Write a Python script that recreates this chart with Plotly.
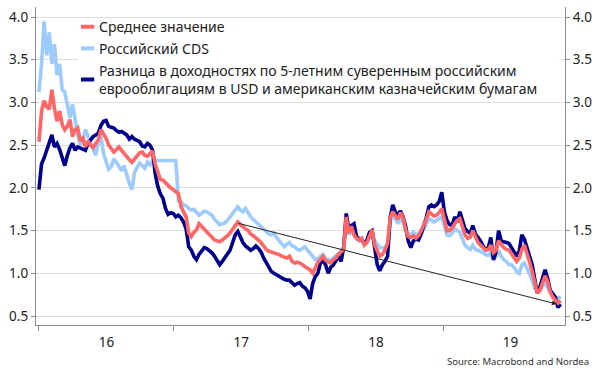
import pandas as pd
import plotly.graph_objects as go

# Weekly observations (Fridays), Jan 2016 - Nov 2019
dates = pd.date_range("2016-01-01", periods=203, freq="7D")

avg_vals = [
    2.54, 2.90, 3.02, 2.95, 2.92, 3.15, 2.93, 2.78, 2.90, 2.74,
    2.68, 2.72, 2.80, 2.60, 2.68, 2.70, 2.55, 2.58, 2.48, 2.55,
    2.50, 2.47, 2.52, 2.56, 2.68, 2.63, 2.58, 2.50, 2.46, 2.42,
    2.45, 2.48, 2.44, 2.40, 2.36, 2.33, 2.30, 2.34, 2.37, 2.41,
    2.42, 2.38, 2.37, 2.40, 2.43, 2.28, 2.17, 2.10, 2.09, 2.06,
    2.02, 2.00, 1.98, 1.96, 1.93, 1.78, 1.72, 1.66, 1.47, 1.43,
    1.48, 1.51, 1.58, 1.55, 1.52, 1.49, 1.46, 1.42, 1.39, 1.38,
    1.37, 1.39, 1.41, 1.44, 1.47, 1.52, 1.57, 1.60, 1.57, 1.54,
    1.52, 1.50, 1.46, 1.44, 1.42, 1.39, 1.36, 1.31, 1.28, 1.26,
    1.25, 1.25, 1.24, 1.22, 1.20, 1.19, 1.18, 1.20, 1.14, 1.12,
    1.13, 1.12, 1.10, 1.08, 1.06, 1.04, 1.00, 1.08, 1.13, 1.16,
    1.20, 1.15, 1.13, 1.12, 1.16, 1.18, 1.22, 1.25, 1.28, 1.66,
    1.47, 1.55, 1.45, 1.41, 1.39, 1.41, 1.33, 1.36, 1.44, 1.51,
    1.33, 1.26, 1.20, 1.22, 1.27, 1.35, 1.65, 1.72, 1.68, 1.63,
    1.71, 1.65, 1.51, 1.43, 1.42, 1.44, 1.41, 1.44, 1.50, 1.56,
    1.63, 1.72, 1.70, 1.67, 1.68, 1.71, 1.76, 1.62, 1.50, 1.50,
    1.53, 1.58, 1.62, 1.64, 1.55, 1.45, 1.41, 1.42, 1.50, 1.42,
    1.36, 1.33, 1.30, 1.27, 1.28, 1.33, 1.24, 1.27, 1.38, 1.33,
    1.30, 1.28, 1.27, 1.23, 1.19, 1.14, 1.18, 1.28, 1.33, 1.24,
    1.13, 1.02, 0.90, 0.77, 0.80, 0.90, 0.97, 0.90, 0.78, 0.72,
    0.69, 0.65, 0.68,
]

cds_vals = [
    3.12, 3.45, 3.95, 3.55, 3.82, 3.45, 3.68, 3.32, 3.45, 3.15,
    3.12, 2.95, 2.82, 2.98, 2.78, 2.62, 2.50, 2.55, 2.68, 2.60,
    2.52, 2.46, 2.38, 2.55, 2.60, 2.40, 2.30, 2.22, 2.25, 2.34,
    2.30, 2.24, 2.20, 2.26, 2.14, 2.05, 1.98, 2.18, 2.24, 2.29,
    2.26, 2.23, 2.30, 2.27, 2.32, 2.32, 2.32, 2.32, 2.32, 2.32,
    2.32, 2.32, 2.32, 2.32, 1.85, 1.84, 1.80, 1.79, 1.76, 1.74,
    1.75, 1.72, 1.68, 1.70, 1.73, 1.72, 1.70, 1.68, 1.63, 1.60,
    1.57, 1.58, 1.59, 1.62, 1.66, 1.70, 1.74, 1.78, 1.74, 1.72,
    1.76, 1.70, 1.66, 1.63, 1.60, 1.57, 1.55, 1.52, 1.49, 1.46,
    1.45, 1.47, 1.42, 1.38, 1.34, 1.31, 1.34, 1.36, 1.32, 1.31,
    1.28, 1.27, 1.29, 1.31, 1.27, 1.24, 1.20, 1.16, 1.17, 1.20,
    1.22, 1.17, 1.16, 1.15, 1.18, 1.20, 1.23, 1.26, 1.30, 1.60,
    1.45, 1.52, 1.44, 1.40, 1.38, 1.40, 1.34, 1.36, 1.42, 1.48,
    1.38, 1.33, 1.30, 1.30, 1.30, 1.35, 1.60, 1.68, 1.64, 1.58,
    1.64, 1.60, 1.50, 1.44, 1.46, 1.48, 1.44, 1.47, 1.50, 1.52,
    1.58, 1.64, 1.62, 1.60, 1.62, 1.64, 1.66, 1.55, 1.45, 1.44,
    1.47, 1.52, 1.50, 1.48, 1.40, 1.33, 1.30, 1.28, 1.33, 1.28,
    1.27, 1.26, 1.24, 1.22, 1.21, 1.24, 1.15, 1.20, 1.27, 1.20,
    1.16, 1.14, 1.10, 1.10, 1.07, 1.02, 1.00, 1.10, 1.12, 1.06,
    1.00, 0.92, 0.82, 0.78, 0.80, 0.86, 0.88, 0.83, 0.76, 0.73,
    0.72, 0.70, 0.73,
]

spread_vals = [
    1.98, 2.28, 2.35, 2.45, 2.52, 2.62, 2.48, 2.52, 2.45, 2.34,
    2.26, 2.38, 2.47, 2.52, 2.44, 2.48, 2.47, 2.45, 2.44, 2.52,
    2.56, 2.60, 2.62, 2.64, 2.73, 2.78, 2.79, 2.72, 2.71, 2.70,
    2.67, 2.65, 2.66, 2.64, 2.62, 2.57, 2.60, 2.57, 2.56, 2.54,
    2.49, 2.48, 2.52, 2.50, 2.44, 2.17, 2.02, 1.93, 1.88, 1.76,
    1.69, 1.71, 1.70, 1.66, 1.68, 1.65, 1.60, 1.52, 1.31, 1.27,
    1.20, 1.16, 1.22, 1.26, 1.30, 1.29, 1.27, 1.24, 1.20, 1.15,
    1.10, 1.14, 1.18, 1.22, 1.27, 1.36, 1.45, 1.49, 1.42, 1.36,
    1.32, 1.30, 1.27, 1.29, 1.32, 1.29, 1.25, 1.18, 1.12, 1.07,
    1.02, 1.00, 0.98, 0.96, 0.94, 0.93, 0.92, 0.92, 0.89, 0.86,
    0.88, 0.89, 0.85, 0.83, 0.79, 0.70, 0.88, 0.96, 1.00, 1.12,
    1.15, 1.10, 1.00, 1.07, 1.10, 1.15, 1.20, 1.14, 1.30, 1.70,
    1.52, 1.56, 1.58, 1.43, 1.40, 1.39, 1.35, 1.39, 1.48, 1.50,
    1.28, 1.10, 1.03, 1.10, 1.14, 1.20, 1.65, 1.80, 1.72, 1.68,
    1.73, 1.66, 1.55, 1.38, 1.30, 1.38, 1.40, 1.39, 1.46, 1.55,
    1.65, 1.78, 1.80, 1.78, 1.80, 1.84, 1.95, 1.72, 1.62, 1.57,
    1.56, 1.66, 1.60, 1.72, 1.60, 1.52, 1.49, 1.47, 1.56, 1.46,
    1.42, 1.38, 1.32, 1.28, 1.30, 1.42, 1.16, 1.25, 1.50, 1.38,
    1.37, 1.36, 1.35, 1.30, 1.25, 1.20, 1.26, 1.45, 1.40, 1.30,
    1.20, 1.10, 0.93, 0.77, 0.84, 0.95, 1.04, 0.94, 0.80, 0.76,
    0.72, 0.60, 0.64,
]

trend_dates = ["2017-06-20", "2019-11-05"]
trend_vals = [1.59, 0.64]

series_names = [
    "Среднее значение",
    "Российский CDS",
    "Разница в доходностях по 5-летним суверенным российским<br>еврооблигациям в USD и американским казначейским бумагам",
]
source_text = "Source: Macrobond and Nordea"

assert len(avg_vals) == len(cds_vals) == len(spread_vals) == len(dates)

C_AVG = "#FF6666"
C_CDS = "#9DCBFB"
C_SPR = "#00008C"
FONT = "Noto Sans"
TXT = "#222222"
AX = "#8C8C8C"
LW = 3.6

fig = go.Figure()
fig.add_trace(go.Scatter(x=dates, y=cds_vals, mode="lines", line=dict(color=C_CDS, width=LW),
                         name=series_names[1], showlegend=False))
fig.add_trace(go.Scatter(x=dates, y=spread_vals, mode="lines", line=dict(color=C_SPR, width=LW),
                         name=series_names[2], showlegend=False))
fig.add_trace(go.Scatter(x=dates, y=avg_vals, mode="lines", line=dict(color=C_AVG, width=LW),
                         name=series_names[0], showlegend=False))
# invisible trace to carry the right-hand axis
fig.add_trace(go.Scatter(x=dates, y=avg_vals, mode="lines", line=dict(width=0), opacity=0,
                         yaxis="y2", showlegend=False, hoverinfo="skip"))

yr = [0.395, 4.117]
yticks = [0.5, 1.0, 1.5, 2.0, 2.5, 3.0, 3.5, 4.0]

fig.update_layout(
    width=600, height=378,
    margin=dict(l=36, r=35, t=7, b=53),
    paper_bgcolor="white", plot_bgcolor="white",
    font=dict(family=FONT, size=14, color=TXT),
    showlegend=False,
    xaxis=dict(
        type="date", range=["2015-12-24", "2019-11-27"], automargin=False,
        dtick="M12", tick0="2016-01-01", tickformat="%y", ticklabelmode="period",
        ticks="outside", ticklen=5, tickcolor=AX, showline=True, linecolor=AX, linewidth=1.3,
        showgrid=False, zeroline=False, tickfont=dict(size=13.5, color=TXT),
    ),
    yaxis=dict(
        range=yr, tickvals=yticks, ticktext=[f"{v:.1f}" for v in yticks], automargin=False,
        ticks="outside", ticklen=4, tickcolor=AX, showline=True, linecolor=AX, linewidth=1.3,
        showgrid=True, gridcolor="#DEDEDE", gridwidth=1, zeroline=False,
        tickfont=dict(size=13.5, color=TXT),
    ),
    yaxis2=dict(
        range=yr, tickvals=yticks, ticktext=[f"{v:.1f}" for v in yticks], automargin=False,
        overlaying="y", side="right",
        ticks="outside", ticklen=4, tickcolor=AX, showline=True, linecolor=AX, linewidth=1.3,
        showgrid=False, zeroline=False, tickfont=dict(size=13.5, color=TXT),
    ),
)

# trend arrow
fig.add_annotation(x=trend_dates[1], y=trend_vals[1], ax=trend_dates[0], ay=trend_vals[0],
                   xref="x", yref="y", axref="x", ayref="y", text="", showarrow=True,
                   arrowhead=2, arrowsize=1, arrowwidth=1, arrowcolor="#222222")

# legend box (manual)
shapes = [dict(type="rect", xref="paper", yref="paper", x0=0.0794, x1=0.99, y0=0.717, y1=0.959,
               fillcolor="white", line=dict(width=0), layer="above")]
leg_y = [0.938, 0.870, 0.772]
leg_c = [C_AVG, C_CDS, C_SPR]
for yy, cc in zip(leg_y, leg_c):
    shapes.append(dict(type="line", xref="paper", yref="paper", x0=0.085, x1=0.110, y0=yy, y1=yy,
                       line=dict(color=cc, width=4), layer="above"))
fig.update_layout(shapes=shapes)
for yy, nm in zip(leg_y, series_names):
    fig.add_annotation(x=0.1144, y=yy, xref="paper", yref="paper", text=nm, showarrow=False,
                       xanchor="left", yanchor="middle", align="left",
                       font=dict(family=FONT, size=14, color=TXT))

fig.add_annotation(x=1.049, y=-0.116, xref="paper", yref="paper", text=source_text, showarrow=False,
                   xanchor="right", yanchor="middle", font=dict(family=FONT, size=9.5, color="#333333"))

fig.write_html("out.html", config={"displayModeBar": False},
               post_script="document.body.style.margin='0';document.body.style.padding='0';")
